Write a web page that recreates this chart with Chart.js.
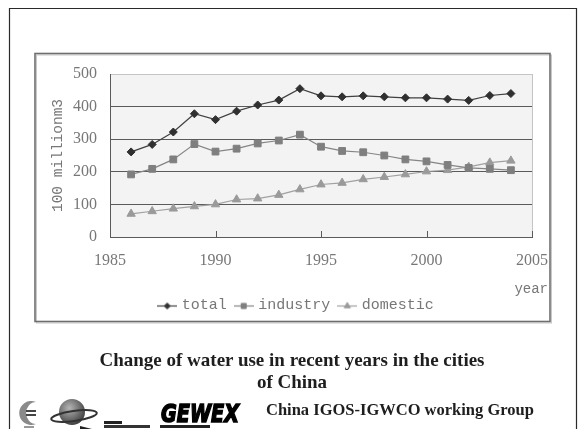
<!DOCTYPE html>
<html>
<head>
<meta charset="utf-8">
<script src="https://cdn.jsdelivr.net/npm/chart.js@4.4.0/dist/chart.umd.min.js"></script>
<style>
  html, body { margin: 0; padding: 0; background: #fff; }
  #wrap { position: relative; width: 578px; height: 429px; overflow: hidden; }
  #chart { position: absolute; left: 0; top: 0; }
  .caption {
    position: absolute; left: 42px; width: 500px; top: 349px;
    text-align: center; font: bold 19px/22px "Liberation Serif", serif; color: #1e1e1e;
  }
  .group {
    position: absolute; left: 266px; top: 401px; white-space: nowrap;
    font: bold 16.5px/18px "Liberation Serif", serif; color: #1e1e1e;
  }
  #logos { position: absolute; left: 0; top: 385px; }
</style>
</head>
<body>
<div id="wrap">
  <canvas id="chart" width="578" height="429"></canvas>
  <div class="caption">Change of water use in recent years in the cities<br>of China</div>
  <svg id="logos" width="260" height="44" viewBox="0 0 260 44">
    <!-- crescent emblem -->
    <path d="M36 17 A12 12 0 1 0 36 39 A9 10 0 1 1 36 17 Z" fill="#8a8a8a"/>
    <rect x="26" y="25" width="10" height="2" fill="#444"/>
    <rect x="26" y="29" width="10" height="2" fill="#444"/>
    <rect x="24" y="41" width="10" height="2" fill="#999"/>
    <!-- globe with ring -->
    <defs>
      <radialGradient id="gl" cx="40%" cy="35%" r="70%">
        <stop offset="0" stop-color="#b5b5b5"/>
        <stop offset="1" stop-color="#3a3a3a"/>
      </radialGradient>
    </defs>
    <circle cx="72" cy="27" r="13" fill="url(#gl)"/>
    <ellipse cx="74" cy="31" rx="23" ry="5" fill="none" stroke="#333" stroke-width="2" transform="rotate(-8 74 31)"/>
    <path d="M80 41 L92 44 L80 44 Z" fill="#222"/>
    <!-- small caption blocks -->
    <rect x="104" y="36" width="18" height="3" fill="#222"/>
    <rect x="104" y="40" width="46" height="3" fill="#333"/>
    <!-- GEWEX mark -->
    <text x="161" y="37" font-family="DejaVu Sans" font-weight="bold" font-style="italic" font-size="25" textLength="78" lengthAdjust="spacingAndGlyphs" fill="#000" stroke="#000" stroke-width="1.6">GEWEX</text>
    <rect x="160" y="40" width="50" height="3" fill="#222"/>
  </svg>
  <div class="group">China IGOS-IGWCO working Group</div>
</div>
<script>
// Urban water use in China, unit: 100 million m3
const years = [1986, 1987, 1988, 1989, 1990, 1991, 1992, 1993, 1994, 1995,
               1996, 1997, 1998, 1999, 2000, 2001, 2002, 2003, 2004];
const totalUse    = [261, 284, 322, 378, 360, 386, 405, 420, 455, 433,
                     430, 433, 430, 427, 427, 423, 419, 434, 440];
const industryUse = [192, 209, 238, 285, 262, 271, 287, 296, 314, 277,
                     264, 260, 250, 238, 232, 221, 212, 209, 205];
const domesticUse = [71, 79, 87, 94, 100, 115, 118, 129, 146, 161,
                     166, 177, 184, 192, 201, 205, 215, 228, 234];
const seriesNames = ['total', 'industry', 'domestic'];
const yTickValues = [0, 100, 200, 300, 400, 500];
const xTickValues = [1985, 1990, 1995, 2000, 2005];

const toPoints = vals => years.map((y, i) => ({ x: y, y: vals[i] }));

const styles = [
  { line: '#404040', fill: '#303030', shape: 'rectRot',  r: 4 },
  { line: '#858585', fill: '#7f7f7f', shape: 'rect',     r: 4.8 },
  { line: '#a0a0a0', fill: '#9a9a9a', shape: 'triangle', r: 4.8 }
];

// Legend glyph: short line with the series marker in the middle
function legendGlyph(st) {
  const c = document.createElement('canvas');
  c.width = 20; c.height = 12;
  const g = c.getContext('2d');
  g.strokeStyle = st.line; g.lineWidth = 1.2;
  g.beginPath(); g.moveTo(0, 6.5); g.lineTo(20, 6.5); g.stroke();
  g.fillStyle = st.fill; g.strokeStyle = st.fill; g.lineWidth = 1;
  Chart.helpers.drawPoint(g, { pointStyle: st.shape, radius: st.r * 0.75, borderWidth: 1, rotation: 0 }, 10, 6.5);
  return c;
}
const glyphs = styles.map(legendGlyph);

const datasets = [totalUse, industryUse, domesticUse].map((vals, i) => ({
  label: seriesNames[i],
  data: toPoints(vals),
  borderColor: styles[i].line,
  borderWidth: 1.2,
  pointStyle: styles[i].shape,
  pointRadius: styles[i].r,
  pointBackgroundColor: styles[i].fill,
  pointBorderColor: styles[i].fill,
  pointBorderWidth: 1,
  tension: 0,
  fill: false
}));

const AXIS = '#5a5a5a';
const TEXT = '#777777';

const frame = {
  id: 'frame',
  beforeDraw(chart) {
    const { ctx, chartArea: a } = chart;
    ctx.save();
    ctx.fillStyle = '#fff';
    ctx.fillRect(0, 0, chart.width, chart.height);
    // page border
    ctx.strokeStyle = '#2a2a2a'; ctx.lineWidth = 1.2;
    ctx.beginPath();
    ctx.moveTo(9.5, 440); ctx.lineTo(9.5, 8.5); ctx.lineTo(576.5, 8.5); ctx.lineTo(576.5, 440);
    ctx.stroke();
    // chart box with a soft shadow
    ctx.strokeStyle = '#c8c8c8'; ctx.lineWidth = 1;
    ctx.strokeRect(36.5, 55, 515, 268);
    ctx.strokeStyle = '#6e6e6e'; ctx.lineWidth = 1.6;
    ctx.strokeRect(35, 53.5, 515, 268);
    // plot area
    ctx.fillStyle = '#f2f3f2';
    ctx.fillRect(a.left, a.top, a.right - a.left, a.bottom - a.top);
    ctx.restore();
  },
  afterDraw(chart) {
    const { ctx, chartArea: a, scales } = chart;
    ctx.save();
    ctx.strokeStyle = '#c4c4c4'; ctx.lineWidth = 1;
    ctx.beginPath(); ctx.moveTo(a.right + 0.5, a.top); ctx.lineTo(a.right + 0.5, a.bottom); ctx.stroke();
    // inward tick marks on the year axis
    ctx.strokeStyle = AXIS;
    xTickValues.slice(1).forEach(v => {
      const x = Math.round(scales.x.getPixelForValue(v)) + 0.5;
      ctx.beginPath(); ctx.moveTo(x, a.bottom); ctx.lineTo(x, a.bottom - 6); ctx.stroke();
    });
    // unit label under the last year
    ctx.fillStyle = TEXT;
    ctx.font = '14px "Liberation Mono", monospace';
    ctx.textAlign = 'right'; ctx.textBaseline = 'middle';
    ctx.fillText('year', 548, 289);
    ctx.restore();
  }
};

new Chart(document.getElementById('chart'), {
  type: 'line',
  data: { datasets },
  plugins: [frame],
  options: {
    responsive: false,
    animation: false,
    devicePixelRatio: 1,
    layout: { padding: { left: 62, top: 74, right: 46, bottom: 106 } },
    plugins: {
      tooltip: { enabled: false },
      legend: {
        position: 'bottom',
        labels: {
          usePointStyle: true,
          pointStyleWidth: 14,
          padding: 10,
          color: TEXT,
          font: { family: '"Liberation Mono", monospace', size: 15 },
          generateLabels(chart) {
            const items = Chart.defaults.plugins.legend.labels.generateLabels(chart);
            items.forEach((it, i) => { it.pointStyle = glyphs[i]; });
            return items;
          }
        }
      }
    },
    scales: {
      x: {
        type: 'linear',
        min: 1985, max: 2005,
        afterFit(s) { s.height = 51; },
        afterBuildTicks(s) { s.ticks = xTickValues.map(v => ({ value: v })); },
        grid: { display: false },
        border: { display: true, color: AXIS, width: 1 },
        ticks: {
          padding: 6,
          color: TEXT,
          maxRotation: 0,
          font: { family: '"Liberation Serif", serif', size: 16 },
          callback: v => String(v)
        }
      },
      y: {
        min: 0, max: 500,
        afterFit(s) { s.width = 48; },
        afterBuildTicks(s) { s.ticks = yTickValues.map(v => ({ value: v })); },
        grid: {
          drawTicks: false,
          color: c => (c.tick && c.tick.value === 500) ? '#c4c4c4' : AXIS,
          lineWidth: 1
        },
        border: { display: true, color: AXIS, width: 1 },
        ticks: {
          padding: 13,
          color: TEXT,
          font: { family: '"Liberation Serif", serif', size: 16 }
        },
        title: {
          display: true,
          text: '100 millionm3',
          color: TEXT,
          padding: { top: -13, bottom: 0 },
          font: { family: '"Liberation Mono", monospace', size: 14.5 }
        }
      }
    }
  }
});
</script>
</body>
</html>
